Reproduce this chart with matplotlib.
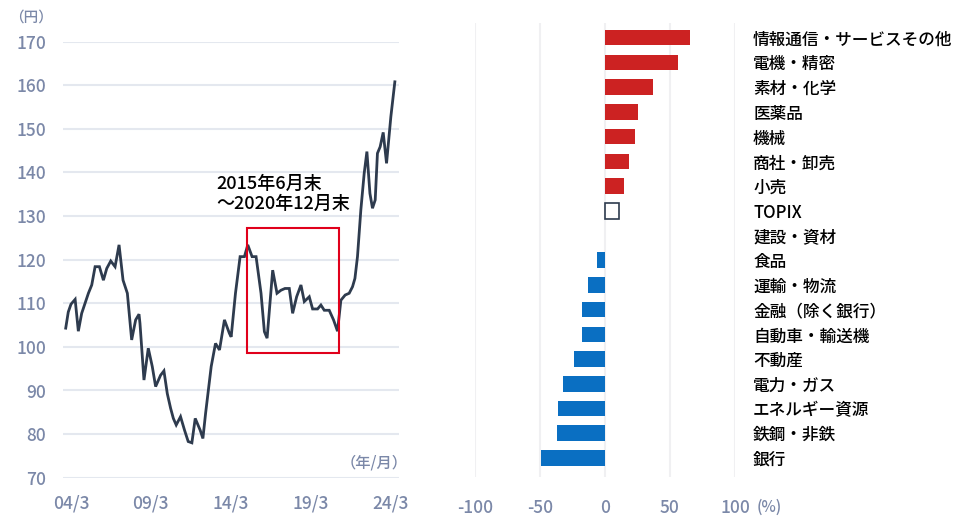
#!/usr/bin/env python3

import numpy as np
from matplotlib import pyplot as plt
from matplotlib.patches import Rectangle

plt.rcParams['font.family'] = ['Noto Sans CJK JP', 'DejaVu Sans']
plt.rcParams['font.weight'] = 'medium'

# ドル円 (円), decimal years
years = [2003.92, 2004.08, 2004.25, 2004.51, 2004.71, 2004.92, 2005.13, 2005.34, 2005.55,
         2005.76, 2006.03, 2006.28, 2006.49, 2006.74, 2007.01, 2007.26, 2007.51, 2007.78,
         2008.05, 2008.30, 2008.51, 2008.57, 2008.82, 2009.09, 2009.34, 2009.55, 2009.86,
         2010.07, 2010.28, 2010.49, 2010.66, 2010.84, 2011.11, 2011.36, 2011.59, 2011.82,
         2012.03, 2012.34, 2012.51, 2012.68, 2013.03, 2013.30, 2013.55, 2013.86, 2014.17,
         2014.28, 2014.55, 2014.84, 2015.11, 2015.32, 2015.59, 2015.84, 2016.15, 2016.36,
         2016.53, 2016.88, 2017.15, 2017.40, 2017.65, 2017.92, 2018.13, 2018.38, 2018.65,
         2018.86, 2019.17, 2019.38, 2019.69, 2019.90, 2020.11, 2020.42, 2020.69, 2020.94,
         2021.15, 2021.42, 2021.67, 2021.88, 2022.03, 2022.19, 2022.40, 2022.61, 2022.78,
         2022.97, 2023.13, 2023.30, 2023.44, 2023.61, 2023.80, 2024.01, 2024.28, 2024.53]
usdjpy = [104.3, 108.0, 109.8, 110.9, 103.6, 107.7, 110.0, 112.3, 114.2,
          118.4, 118.4, 115.3, 118.0, 119.7, 118.4, 123.4, 115.3, 112.3,
          101.6, 106.2, 107.5, 105.4, 92.4, 99.7, 95.5, 90.9, 93.5,
          94.5, 89.3, 85.9, 83.6, 82.1, 84.0, 80.9, 78.3, 78.0,
          83.6, 80.9, 79.0, 84.8, 95.5, 100.8, 99.3, 106.2, 103.1,
          102.3, 112.3, 120.7, 120.7, 123.4, 120.7, 120.7, 112.3, 103.5,
          102.0, 117.6, 112.3, 113.0, 113.4, 113.4, 107.7, 111.5, 114.2,
          110.4, 111.5, 108.7, 108.7, 109.6, 108.4, 108.4, 106.2, 103.6,
          110.7, 111.9, 112.3, 113.8, 115.7, 120.7, 131.4, 139.8, 144.8,
          135.2, 131.8, 133.7, 144.4, 145.9, 149.2, 142.1, 152.8, 160.8]
xticks = [2004.25, 2009.25, 2014.25, 2019.25, 2024.25]
xticklabels = ['04/3', '09/3', '14/3', '19/3', '24/3']

# 業種別 騰落率 (%)
sectors = ['情報通信・サービスその他', '電機・精密', '素材・化学', '医薬品', '機械',
           '商社・卸売', '小売', 'TOPIX', '建設・資材', '食品', '運輸・物流',
           '金融（除く銀行）', '自動車・輸送機', '不動産', '電力・ガス',
           'エネルギー資源', '鉄鋼・非鉄', '銀行']
changes = [65.4, 56.4, 36.7, 25.4, 23.1, 18.5, 14.6, 10.5, 0.0, -5.9, -13.3,
           -17.9, -17.9, -24.1, -32.3, -36.2, -36.9, -49.0]

TICK = '#7b88a8'
GRID = '#e4e8ef'


def main():
    fig = plt.figure(figsize=(9.7, 5.28), dpi=100)

    # --- line chart ---
    ax = fig.add_axes([63/970, 1-477.7/528, 336/970, 436/528])
    ax.plot(years, usdjpy, color='#2e3b4e', lw=2.0, solid_joinstyle='miter')
    ax.set_xlim(2003.75, 2024.79)
    ax.set_ylim(70, 170)
    ax.set_yticks(np.arange(70, 171, 10))
    ax.set_xticks(xticks)
    ax.set_xticklabels(xticklabels)
    ax.grid(axis='y', color=GRID, lw=1.5)
    ax.set_axisbelow(True)
    for s in ax.spines.values():
        s.set_visible(False)
    ax.tick_params(length=0, colors=TICK, labelsize=12.5)
    ax.tick_params(axis='x', pad=12)
    ax.tick_params(axis='y', pad=12)
    ax.text(-0.161, 1.055, '（円）', transform=ax.transAxes, color=TICK,
            fontsize=10.5, ha='left', va='center')
    ax.text(1.025, 0.034, '（年/月）', transform=ax.transAxes, color=TICK,
            fontsize=11, ha='right', va='center')
    ax.add_patch(Rectangle((2015.25, 98.5), 5.81, 28.7, fill=False,
                           edgecolor='#e0001b', lw=1.5, zorder=3))
    ax.text(2013.33, 135.1, '2015年6月末\n～2020年12月末', fontsize=13,
            color='black', ha='left', va='center', linespacing=1.15)

    # --- bar chart ---
    bx = fig.add_axes([475/970, 1-477/528, 260/970, 454/528])
    ypos = np.arange(len(sectors))
    cols = []
    for name, v in zip(sectors, changes):
        if name == 'TOPIX':
            cols.append('white')
        elif v >= 0:
            cols.append('#cc2222')
        else:
            cols.append('#0a6fc2')
    bars = bx.barh(ypos, changes, height=0.63, color=cols, zorder=3)
    topix = sectors.index('TOPIX')
    bars[topix].set_edgecolor('#2e3b4e')
    bars[topix].set_linewidth(1.2)
    bx.set_xlim(-100, 100)
    bx.set_ylim(17.77, -0.595)
    bx.set_xticks([-100, -50, 0, 50, 100])
    bx.set_xticklabels(['-100', '-50', '0', '50', '100'])
    bx.grid(axis='x', color='#f0f0f2', lw=1.5)
    bx.set_yticks(ypos)
    bx.set_yticklabels(sectors)
    bx.yaxis.tick_right()
    for s in bx.spines.values():
        s.set_visible(False)
    bx.tick_params(length=0)
    bx.tick_params(axis='x', colors=TICK, labelsize=12.5, pad=16)
    bx.tick_params(axis='y', colors='black', labelsize=12, pad=13)
    for lab in bx.get_yticklabels():
        lab.set_ha('left')
    bx.text(1.13, -0.066, '(%)', transform=bx.transAxes, color=TICK,
            fontsize=11, ha='center', va='center')

    plt.savefig('out.png', dpi=100)


if __name__ == '__main__':
    main()
